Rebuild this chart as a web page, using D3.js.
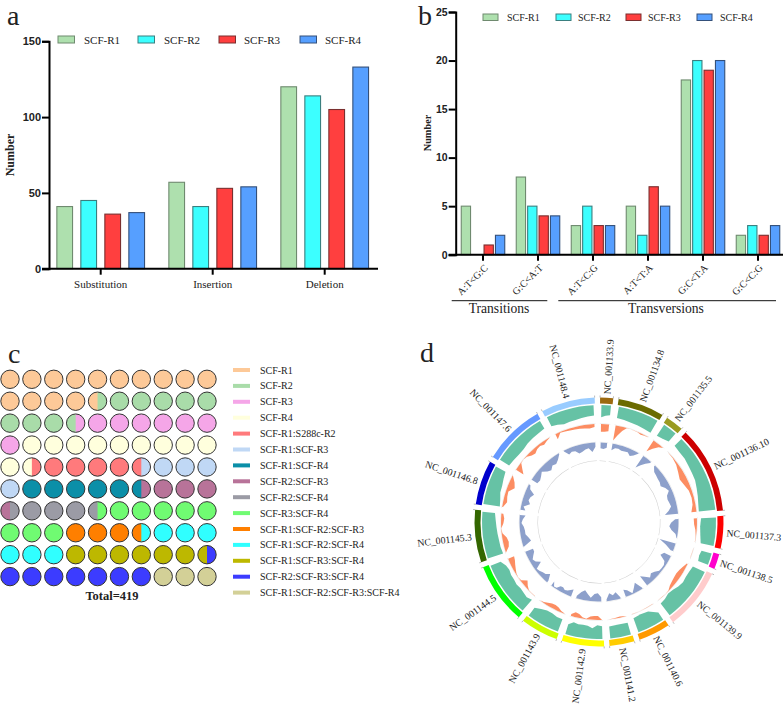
<!DOCTYPE html>
<html><head><meta charset="utf-8">
<script src="https://cdn.jsdelivr.net/npm/d3@7"></script>
<style>html,body{margin:0;background:#fff}svg{display:block}text{font-family:"Liberation Serif",serif;fill:#222}</style>
</head><body><svg id="c" width="784" height="704"></svg>
<script>
const seriesNames=["SCF-R1","SCF-R2","SCF-R3","SCF-R4"];
const seriesFill=["#aee0ae","#3cffff","#ff3f3f","#569fff"];
const seriesEdge=["#6f8a6f","#3a7f7f","#7a2f2f","#34507a"];
const catsA=["Substitution","Insertion","Deletion"];
const aR1=[41,57,120], aR2=[45,41,114], aR3=[36,53,105], aR4=[37,54,133];
const ticksA=[0,50,100,150];
const catsB=["A:T<G:C","G:C<A:T","A:T<C:G","A:T<T:A","G:C<T:A","G:C<C:G"];
const bR1=[5,8,3,5,18,2], bR2=[0,5,5,2,20,3], bR3=[1,4,3,7,19,2], bR4=[2,4,3,5,20,3];
const ticksB=[0,5,10,15,20,25];
const vennNames=["SCF-R1","SCF-R2","SCF-R3","SCF-R4","SCF-R1:S288c-R2","SCF-R1:SCF-R3","SCF-R1:SCF-R4","SCF-R2:SCF-R3","SCF-R2:SCF-R4","SCF-R3:SCF-R4","SCF-R1:SCF-R2:SCF-R3","SCF-R1:SCF-R2:SCF-R4","SCF-R1:SCF-R3:SCF-R4","SCF-R2:SCF-R3:SCF-R4","SCF-R1:SCF-R2:SCF-R3:SCF-R4"];
const vennShare=[14.5,9,7.5,10.5,5,4.5,5.5,4,4,8.5,3.5,6.5,6.5,7.5,3];
const vennFill=["#fdc998","#a9dca9","#f5a6e8","#ffffdd","#ff7a7c","#c0d8f5","#0b8fa8","#b87399","#9b9ba5","#70fb72","#ff7f00","#30ffff","#bdb800","#3c3cff","#d3d097"];
const chromNames=["NC_001133.9","NC_001134.8","NC_001135.5","NC_001136.10","NC_001137.3","NC_001138.5","NC_001139.9","NC_001140.6","NC_001141.2","NC_001142.9","NC_001143.9","NC_001144.5","NC_001145.3","NC_001146.8","NC_001147.6","NC_001148.4"];
const chromSize=[230,813,317,1532,577,270,1091,563,440,746,667,1078,924,784,1091,948];
const chromFill=["#9c6a10","#6b6b00","#9a9a20","#cc0000","#ff0000","#ff00cc","#ffcccc","#ff9900","#ffcc00","#ffff00","#ccff00","#00ff00","#336600","#0000cc","#6699ff","#99ccff"];
const greenTrack=[[70,60,55],[65,68,72,75,78,80],[75,70,60],[55,60,60,65,68,70,78,85,92,95],[85,90,85,75],[60,65,60],[75,80,82,78,85,95,100,90,85],[50,85,90,85],[70,72,68],[72,78,60,72,75,72,78,58],[75,75,82,82,72,55],[82,72,78,82,78,82,82,88,82,62],[92,88,88,85,82,78,72],[95,90,80,78,70,62],[62,66,70,70,62,58,55,50],[58,65,75,72,70,66,62,60]];
const orangeTrack=[[48,48,42],[95,60,25,2,1,1,2,8,4,1],[80,45,15,0],[1,3,12,28,42,32,18,14,18,32],[20,18,8,2,1],[1,1,1],[5,18,28,32,30,25,18,3,1,1,1],[1,1,1,1],[1,8,3,1],[1,25,25,20,2,8,25,30,12],[1,8,22,28,25,15,5,1],[1,1,1,15,35,5,1,5,15,25,35,40],[1,28,35,28,5,1,15,20,12],[5,25,18,15,45,30,2],[55,30,3,1,5,22,28,15,12,20,10,2],[35,5,8,12,15,18,22,25,18]];
const blueTrack=[[35,38,30],[40,25,22,30,28,25,40,28,5],[85,55,30,8],[8,30,35,40,42,50,30,18,40,45,40,35,55,80],[20,45,55,40,12,2],[100,55,15],[45,60,20,10,10,12,30,40,25,50,70],[5,55,30,4,35,45],[8,45,30,45,10],[25,50,45,20,40,60,45,15],[45,35,25,20,30,28,8,5,30],[12,50,30,25,15,10,55,30,20,35,50,50],[5,55,45,30,30,25,12,20,35],[30,15,50,35,40,55,20,10],[40,45,35,20,45,55,38,45,30,5],[5,35,25,30,50,45,35,30,55,25]];

const svg=d3.select("#c");
function text(x,y,s,size,o={}){
  return svg.append("text").attr("x",x).attr("y",y).attr("font-size",size).attr("text-anchor",o.a||"start")
   .attr("dominant-baseline","central").attr("font-weight",o.w||400).style("font-family",o.f||null).text(s);
}
[["a",7,25],["b",418,25],["c",8,363],["d",420,362]].forEach(d=>{
  svg.append("text").attr("x",d[1]).attr("y",d[2]).attr("font-size",28).text(d[0]);
});

function barChart(o){
  const y=d3.scaleLinear().domain(o.dom).range([o.y0,o.y1]);
  const x=d3.scaleBand().domain(o.cats).range(o.xr).paddingInner(0).paddingOuter(0);
  const sx=d3.scaleLinear().domain([0,1]).range([0,o.step]);
  o.series.forEach((vals,s)=>{
    svg.append("g").selectAll("rect").data(vals).join("rect")
      .attr("x",(d,i)=>x(o.cats[i])+x.bandwidth()/2-2*o.step+(o.step-o.bw)/2+sx(s))
      .attr("y",d=>y(d)).attr("width",o.bw).attr("height",d=>o.y0-y(d))
      .attr("fill",seriesFill[s]).attr("stroke",d=>d?seriesEdge[s]:"none").attr("stroke-width",1.1);
  });
  const gy=svg.append("g").attr("transform",`translate(${o.x0},0)`).call(d3.axisLeft(y).tickValues(o.ticks).tickSize(7).tickFormat(d3.format("d")));
  const gx=svg.append("g").attr("transform",`translate(0,${o.y0})`).call(d3.axisBottom(x).tickSize(6).tickFormat(""));
  gx.select(".domain").attr("d",`M${o.x0-7},0H${o.xend}`);
  [gy,gx].forEach(g=>{g.selectAll("path,line").attr("stroke","#000").attr("stroke-width",2);});
  gy.selectAll("text").attr("font-size",o.tf).attr("font-weight",700).style("font-family","Liberation Sans").attr("fill","#111").attr("x",-8);
  return {x};
}
barChart({cats:catsA,dom:[0,150],y0:268.7,y1:41.3,xr:[44.7,380.7],x0:49,xend:378,step:24,bw:15.7,series:[aR1,aR2,aR3,aR4],ticks:ticksA,tf:11});
catsA.forEach((c,i)=>text(100.7+112*i,284,c,11,{a:"middle"}));
text(0,0,"Number",12,{a:"middle",w:700}).attr("x",null).attr("y",null).attr("transform","translate(10,155) rotate(-90)");
const legA=[58,138,219,300], legAT=[84,164,244,325];
seriesNames.forEach((n,i)=>{svg.append("rect").attr("x",legA[i]).attr("y",36).attr("width",16.5).attr("height",7).attr("fill",seriesFill[i]).attr("stroke",seriesEdge[i]);text(legAT[i],39.5,n,11);});

barChart({cats:catsB,dom:[0,25],y0:254.7,y1:12,xr:[455.5,785.5],x0:455.7,xend:783,step:11.4,bw:9.3,series:[bR1,bR2,bR3,bR4],ticks:ticksB,tf:10.5});
catsB.forEach((c,i)=>{text(0,0,c,10,{a:"end"}).attr("x",null).attr("y",null).attr("transform",`translate(${486+55*i},266) rotate(-45)`);});
text(0,0,"Number",10.3,{a:"middle",w:700}).attr("x",null).attr("y",null).attr("transform","translate(427,133) rotate(-90)");
const legB=[483,556,626,697], legBT=[507,578,648,720];
seriesNames.forEach((n,i)=>{svg.append("rect").attr("x",legB[i]).attr("y",14).attr("width",15).attr("height",6.5).attr("fill",seriesFill[i]).attr("stroke",seriesEdge[i]);text(legBT[i],17.5,n,10);});
[[451.7,547.3,"Transitions",499],[558.3,776,"Transversions",666]].forEach(d=>{
  svg.append("line").attr("x1",d[0]).attr("x2",d[1]).attr("y1",300.7).attr("y2",300.7).attr("stroke","#111").attr("stroke-width",1);
  text(d[3],308,d[2],13.6,{a:"middle"});
});

// waffle
const cols=d3.range(10), rows=d3.range(10);
const wx=d3.scalePoint().domain(cols).range([10,207]);
const wy=d3.scalePoint().domain(rows).range([379.3,576.6]);
const halves=[];vennShare.forEach((v,i)=>{d3.range(Math.round(v*2)).forEach(()=>halves.push(i));});
const half=d3.arc().innerRadius(0).outerRadius(9.2);
rows.forEach(r=>cols.forEach(c=>{
  const a=halves[(r*10+c)*2], b=halves[(r*10+c)*2+1];
  const g=svg.append("g").attr("transform",`translate(${wx(c)},${wy(r)})`);
  g.append("circle").attr("r",9.2).attr("fill",vennFill[a]);
  if(a!==b) g.append("path").attr("d",half({startAngle:0,endAngle:Math.PI})).attr("fill",vennFill[b]);
  g.append("circle").attr("r",9.2).attr("fill","none").attr("stroke","#333").attr("stroke-width",1);
}));
text(112,595.7,"Total=419",12.5,{a:"middle",w:700});
const ly=d3.scaleLinear().domain([0,14]).range([370,592.6]);
vennNames.forEach((n,i)=>{svg.append("rect").attr("x",233).attr("y",ly(i)-2).attr("width",17).attr("height",4).attr("fill",vennFill[i]);text(260,ly(i),n,10);});

// circos
const cx=599, cy=522;
const gap=2.5*Math.PI/180, off=0.5*Math.PI/180-gap/2;
const sectors=d3.pie().sort(null).value(d=>d).startAngle(off).endAngle(off+2*Math.PI).padAngle(gap)(chromSize);
const C=svg.append("g").attr("transform",`translate(${cx},${cy})`);
const ringArc=d3.arc().innerRadius(118.5).outerRadius(124.5);
const rG=d3.scaleLinear().domain([0,100]).range([117,99.5]);
const rO=d3.scaleLinear().domain([0,100]).range([98,82]);
const rB=d3.scaleLinear().domain([0,100]).range([79.5,63]);
function track(vals,rs,fill,inset){
  vals.forEach((arr,k)=>{
    const s=sectors[k], a=d3.scaleLinear().domain([0,arr.length-1]).range([s.startAngle+gap/2+inset,s.endAngle-gap/2-inset]);
    const area=d3.areaRadial().angle((d,i)=>a(i)).outerRadius(rs(0)).innerRadius(d=>rs(d));
    C.append("path").attr("d",area(arr)).attr("fill",fill);
  });
}
function thin(r,color){
  sectors.forEach(s=>{
    C.append("path").attr("d",d3.arc().innerRadius(r).outerRadius(r+0.5)({startAngle:s.startAngle+gap/2,endAngle:s.endAngle-gap/2})).attr("fill",color);
  });
}
thin(98.2,"#e6e6e6");thin(79.7,"#e6e6e6");thin(61,"#cfcfcf");
track(greenTrack,rG,"#66c2a5",0.012);
track(orangeTrack,rO,"#fc8d62",0.012);
track(blueTrack,rB,"#8da0cb",0.012);
sectors.forEach((s,i)=>{
  const a0=s.startAngle+gap/2,a1=s.endAngle-gap/2;
  C.append("path").attr("d",ringArc({startAngle:a0,endAngle:a1})).attr("fill",chromFill[i]);
  [a0,a1].forEach(t=>{
    const sx=Math.sin(t),sy=-Math.cos(t);
    C.append("line").attr("x1",sx*124.5).attr("y1",sy*124.5).attr("x2",sx*126.5).attr("y2",sy*126.5).attr("stroke","#999").attr("stroke-width",0.7);
  });
  const mid=(a0+a1)/2, deg=mid*180/Math.PI;
  const left=deg>180;
  C.append("text").attr("font-size",9.8).attr("dominant-baseline","central").attr("text-anchor",left?"end":"start")
   .attr("transform",`rotate(${deg-90}) translate(128,0)${left?" rotate(180)":""}`).text(chromNames[i]);
});
</script></body></html>
